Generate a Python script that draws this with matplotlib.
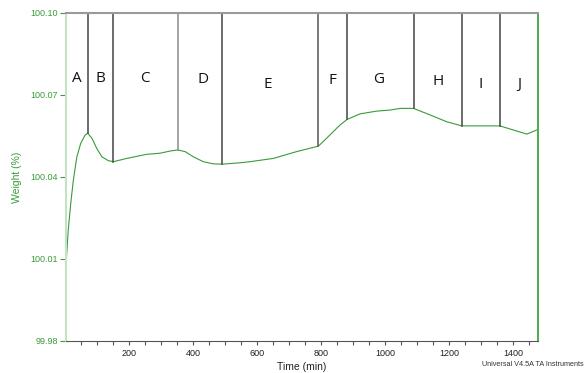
'''
TGA curve - Weight (%) vs Time (min) with segmented regions A..J
'''
import matplotlib.pyplot as plt
from matplotlib.ticker import MultipleLocator, FixedLocator

# Curve points
time = [2, 9, 17, 25, 36, 48, 62, 70, 83, 98, 114, 134, 150, 192, 254, 296, 327, 351,
        374, 400, 431, 463, 491, 546, 577, 650, 723, 791, 827, 858, 881, 921, 973, 1015,
        1046, 1088, 1140, 1192, 1239, 1358, 1400, 1442, 1473]
weight = [100.0078, 100.0206, 100.0305, 100.0389, 100.0474, 100.0523, 100.0554, 100.0560,
          100.0542, 100.0505, 100.0474, 100.0460, 100.0456, 100.0468, 100.0483, 100.0487,
          100.0495, 100.0499, 100.0493, 100.0474, 100.0456, 100.0448, 100.0447, 100.0452,
          100.0456, 100.0468, 100.0493, 100.0513, 100.0554, 100.0590, 100.0611, 100.0631,
          100.0641, 100.0645, 100.0651, 100.0651, 100.0627, 100.0602, 100.0587, 100.0587,
          100.0572, 100.0557, 100.0572]

# Region boundaries (vertical lines) and their lower end on the curve
bound_t = [70, 150, 351, 491, 791, 881, 1088, 1239, 1358]
bound_w = [100.0560, 100.0456, 100.0499, 100.0447, 100.0513, 100.0611, 100.0651, 100.0587, 100.0587]
bound_c = ['#444444', '#444444', '#8a8a8a', '#444444', '#555555', '#444444', '#444444', '#444444', '#444444']

# Region labels
labels = ['A', 'B', 'C', 'D', 'E', 'F', 'G', 'H', 'I', 'J']
label_t = [36, 111, 249, 431, 634, 834, 980, 1164, 1298, 1419]
label_w = [100.0762, 100.0762, 100.0762, 100.0755, 100.0740, 100.0752, 100.0755, 100.0748, 100.0740, 100.0737]

green = '#3a9a3a'
y_top = 100.10

fig = plt.figure(figsize=(5.87, 3.73), dpi=100)
ax = fig.add_axes([66/587, 32/373, 472/587, 328/373])

ax.plot(time, weight, color=green, lw=0.8)

for t, w, c in zip(bound_t, bound_w, bound_c):
    ax.plot([t, t], [w, y_top], color=c, lw=1.1)

for s, t, w in zip(labels, label_t, label_w):
    ax.text(t, w, s, ha='center', va='center', fontsize=11, family='Open Sans', color='#111111')

ax.set_xlim(2, 1477)
ax.set_ylim(99.98, 100.10)

ax.xaxis.set_major_locator(FixedLocator([200, 400, 600, 800, 1000, 1200, 1400]))
ax.xaxis.set_minor_locator(MultipleLocator(50))
ax.yaxis.set_major_locator(FixedLocator([99.98, 100.01, 100.04, 100.07, 100.10]))
ax.yaxis.set_major_formatter(plt.FormatStrFormatter('%.2f'))

ax.tick_params(axis='x', which='both', direction='out', length=3, width=0.8, color='#555555',
               labelsize=6.5, labelcolor='#222222', pad=3)
ax.tick_params(axis='y', which='both', direction='out', length=4, width=0.8, color=green,
               labelsize=6.5, labelcolor=green, pad=2)
for lab in ax.get_xticklabels() + ax.get_yticklabels():
    lab.set_family('Liberation Sans')

ax.spines['left'].set_color('#c3e3c3')
ax.spines['left'].set_linewidth(1.5)
ax.spines['right'].set_color('#2ca02c')
ax.spines['right'].set_linewidth(1.2)
ax.spines['top'].set_color('#9a9a9a')
ax.spines['top'].set_linewidth(1.5)
ax.spines['bottom'].set_color('#555555')
ax.spines['bottom'].set_linewidth(0.8)

ax.set_xlabel('Time (min)', fontsize=7.5, family='Liberation Sans', color='#222222', labelpad=3)
ax.set_ylabel('Weight (%)', fontsize=7.5, family='Liberation Sans', color=green, labelpad=6)

fig.text(584/587, 9/373, 'Universal V4.5A TA Instruments', fontsize=5.2,
         family='Liberation Sans', color='#333333', ha='right', va='center')

fig.savefig('out.png', dpi=100)
